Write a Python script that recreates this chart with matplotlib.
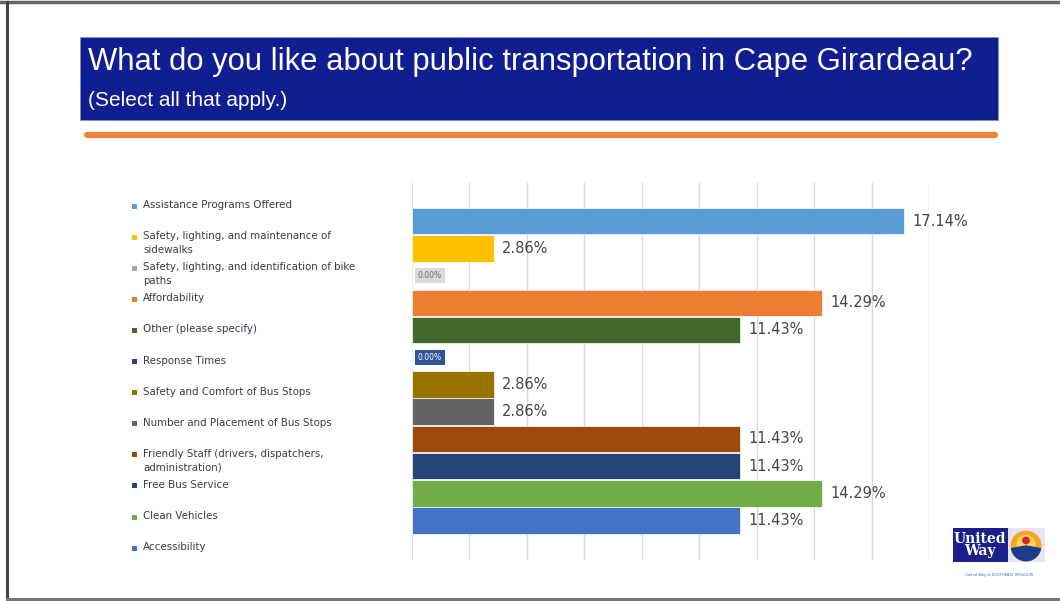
import matplotlib
matplotlib.use("Agg")
import matplotlib.pyplot as plt
from matplotlib.patches import Rectangle, Circle, Wedge
from matplotlib.lines import Line2D

W, H = 1060, 601

categories = [
    "Assistance Programs Offered",
    "Safety, lighting, and maintenance of\nsidewalks",
    "Safety, lighting, and identification of bike\npaths",
    "Affordability",
    "Other (please specify)",
    "Response Times",
    "Safety and Comfort of Bus Stops",
    "Number and Placement of Bus Stops",
    "Friendly Staff (drivers, dispatchers,\nadministration)",
    "Free Bus Service",
    "Clean Vehicles",
    "Accessibility",
]
values = [17.14, 2.86, 0.00, 14.29, 11.43, 0.00, 2.86, 2.86, 11.43, 11.43, 14.29, 11.43]
colors = ["#5B9BD5", "#FFC000", "#A5A5A5", "#ED7D31", "#43682B", "#264478",
          "#997300", "#636363", "#9E480E", "#264478", "#70AD47", "#4472C4"]

title = "What do you like about public transportation in Cape Girardeau?"
subtitle = "(Select all that apply.)"

sans = ["Liberation Sans", "DejaVu Sans"]


def fx(x):
    return x / W


def fy(y):
    return 1 - y / H


fig = plt.figure(figsize=(W / 100, H / 100), dpi=100)
fig.patch.set_facecolor("white")

# slide frame
fig.add_artist(Line2D([0, 1], [fy(2), fy(2)], color="#666666", lw=2.5))
fig.add_artist(Line2D([fx(7), fx(7)], [fy(2), fy(599)], color="#444444", lw=2.2))
fig.add_artist(Line2D([fx(7), 1], [fy(599), fy(599)], color="#777777", lw=2.2))

# title banner
fig.add_artist(Rectangle((fx(80), fy(120)), fx(998) - fx(80), fy(37) - fy(120),
                         facecolor="#111E92", edgecolor="#8090d0", lw=0.6))
fig.text(fx(88), fy(62), title, color="white", fontsize=22.3, family=sans,
         va="center", ha="left")
fig.text(fx(88), fy(100), subtitle, color="white", fontsize=15, family=sans,
         va="center", ha="left")
fig.add_artist(Line2D([fx(87), fx(995)], [fy(135), fy(135)], color="#ED7D31",
                      lw=4.5, solid_capstyle="round", alpha=0.95))

# chart
ax = fig.add_axes([fx(412), fy(560), fx(929) - fx(412), fy(183) - fy(560)])
pos = list(range(len(categories)))
ax.barh(pos, values, height=0.97, color=colors, edgecolor="white", linewidth=0.5, zorder=2)
ax.set_xlim(0, 18)
ax.set_ylim(12.45, -1.4)
ax.set_xticks(range(0, 19, 2))
ax.grid(axis="x", color="#D9D9D9", lw=1, zorder=0)
ax.set_yticks([])
ax.tick_params(axis="x", length=0, labelbottom=False)
for s in ax.spines.values():
    s.set_visible(False)

for p, v, c in zip(pos, values, colors):
    if v > 0:
        ax.text(v + 0.28, p, f"{v:.2f}%", va="center", ha="left",
                fontsize=10.5, color="#454545", family="DejaVu Sans")
    else:
        tc = "white" if c == "#264478" else "#707070"
        fc = "#2F5597" if c == "#264478" else "#D9D9D9"
        ax.text(0.2, p, f"{v:.2f}%", va="center", ha="left", fontsize=5.5,
                color=tc, bbox=dict(boxstyle="square,pad=0.4", fc=fc, ec="none"))

# legend
for i, (lab, c) in enumerate(zip(categories, colors)):
    y = 206 + i * 31.1
    fig.add_artist(Rectangle((fx(132), fy(y + 2.5)), fx(5), fy(0) - fy(5),
                             facecolor=c, edgecolor="none"))
    fig.text(fx(143), fy(y - 6), lab, fontsize=7.4, color="#3A3A4E", va="top",
             ha="left", linespacing=1.45, family="DejaVu Sans")

# logo
fig.add_artist(Rectangle((fx(953), fy(562)), fx(1008) - fx(953), fy(528) - fy(562),
                         facecolor="#1B1F8A", edgecolor="none"))
fig.add_artist(Rectangle((fx(1008), fy(562)), fx(1045) - fx(1008), fy(528) - fy(562),
                         facecolor="#E4E4F2", edgecolor="none"))
fig.text(fx(980), fy(545), "United\nWay", color="white", fontsize=10, weight="bold",
         family="DejaVu Serif", ha="center", va="center", linespacing=0.9)
lax = fig.add_axes([fx(1010), fy(562), fx(1042) - fx(1010), fy(530) - fy(562)])
lax.set_zorder(5)
lax.patch.set_alpha(0)
lax.set_xlim(-1, 1)
lax.set_ylim(-1, 1)
lax.set_aspect("equal")
lax.axis("off")
lax.add_patch(Circle((0, 0), 0.92, color="#F6A623"))
lax.add_patch(Circle((0, 0.1), 0.55, color="#FCD45A"))
lax.add_patch(Wedge((0, 0), 0.92, 190, 350, color="#1E3C8C"))
lax.add_patch(Circle((0, 0.35), 0.2, color="#D9262B"))
fig.text(fx(999), fy(575), "United Way of SOUTHEAST MISSOURI", fontsize=2.6,
         color="#3070C0", ha="center", va="center")

fig.savefig("out.png", dpi=100, facecolor="white")
